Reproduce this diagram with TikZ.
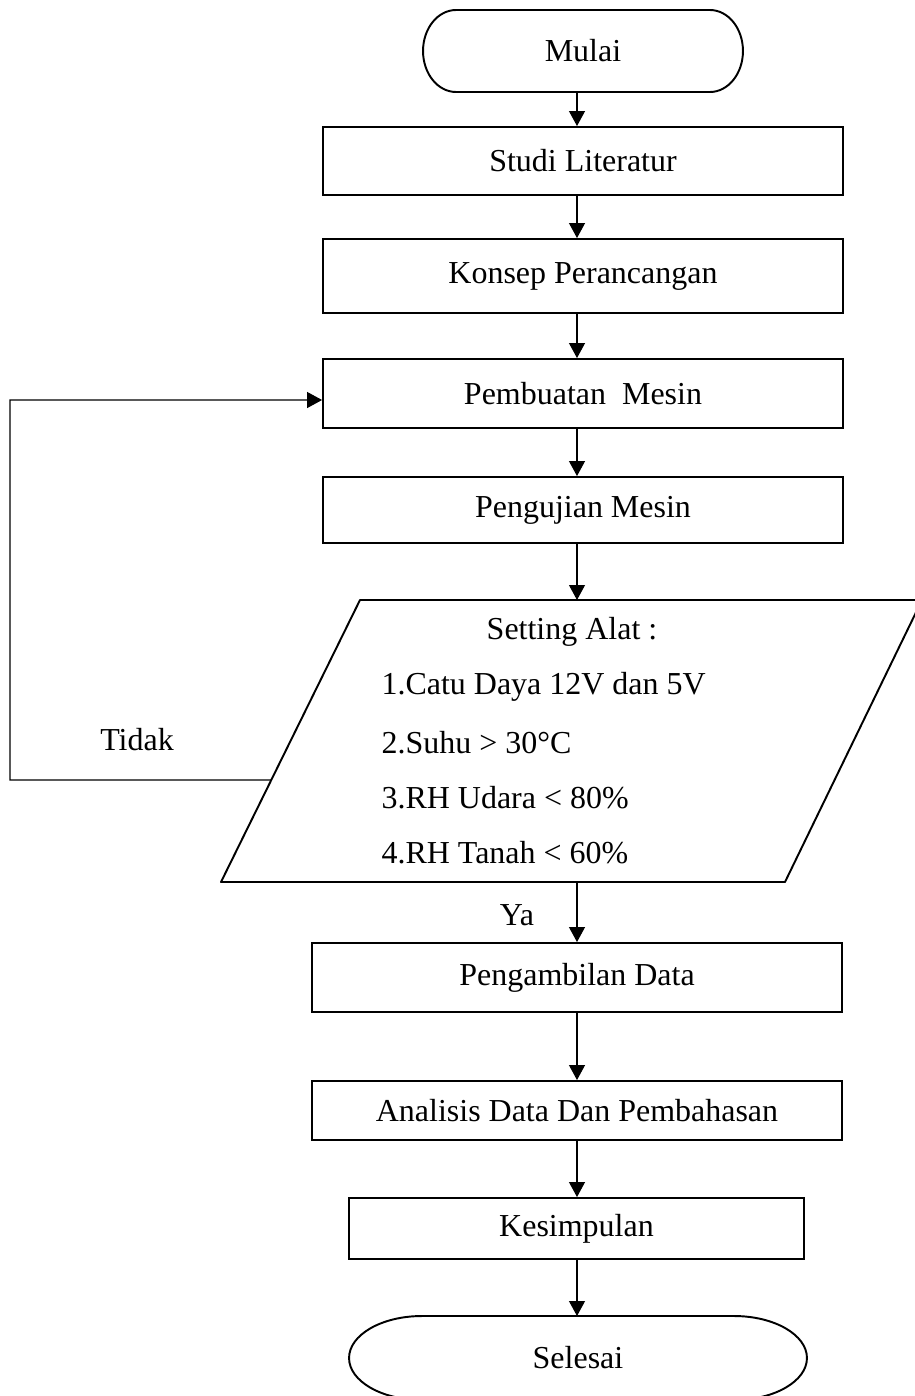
\documentclass[tikz,border=0pt]{standalone}
\usepackage{fontspec}
\setmainfont{Liberation Serif}
\usetikzlibrary{arrows.meta, calc, positioning}
\tikzset{%
  every path/.style={line width=0.6pt},
    flow/.style={%
        ->,
        >={Triangle[length=0.3cm, width=0.32cm]},
    },
    process/.style={%
        rectangle,
        draw=black, line width=1.1pt,
        font=\fontsize{18.2}{22}\selectfont,
        text centered,
        inner sep=0pt,
    },
    terminal/.style={%
        rectangle,
        font=\fontsize{18.2}{22}\selectfont,
        text centered,
        inner sep=0pt, outer sep=0pt,
    },
    outline/.style={%
        draw=black, line width=1.1pt, line join=round,
    },
    lbl/.style={%
        font=\fontsize{18.2}{22}\selectfont,
        inner sep=0pt,
    },
}

\begin{document}
\begin{tikzpicture}[x=0.02cm, y=-0.02cm]
  \useasboundingbox (0,0) rectangle (914,1396);
  % \draw[help lines, step=50] (0,0) grid (914,1396);
  \coordinate (axis) at (577,0);

  % start and end
  \node [terminal, minimum width=6.4cm, minimum height=1.64cm] at (583,51) (mulai) {Mulai};
  \draw[outline] ([xshift=0.66cm]mulai.north west) -- ([xshift=-0.66cm]mulai.north east)
    arc[start angle=90, end angle=-90, x radius=0.66cm, y radius=0.82cm]
    -- ([xshift=0.66cm]mulai.south west)
    arc[start angle=270, end angle=90, x radius=0.66cm, y radius=0.82cm] -- cycle;

  \node [terminal, minimum width=9.16cm, minimum height=1.68cm] at (578,1358) (selesai) {Selesai};
  \draw[outline] ([xshift=1.46cm]selesai.north west) -- ([xshift=-1.46cm]selesai.north east)
    arc[start angle=90, end angle=-90, x radius=1.46cm, y radius=0.84cm]
    -- ([xshift=1.46cm]selesai.south west)
    arc[start angle=270, end angle=90, x radius=1.46cm, y radius=0.84cm] -- cycle;

  % process steps
  \node [process, minimum width=10.4cm, minimum height=1.36cm] at (583,161) (studi) {Studi Literatur};
  \node [process, minimum width=10.4cm, minimum height=1.48cm] at (583,276) (konsep) {Konsep Perancangan};
  \node [process, minimum width=10.4cm, minimum height=1.38cm] at (583,393.5) (pembuatan) {Pembuatan\ \ Mesin};
  \node [process, minimum width=10.4cm, minimum height=1.32cm] at (583,510) (pengujian) {Pengujian Mesin};
  \node [process, minimum width=10.6cm, minimum height=1.38cm] at (577,977.5) (pengambilan) {Pengambilan Data};
  \node [process, minimum width=10.6cm, minimum height=1.18cm] at (577,1110.5) (analisis) {Analisis Data Dan Pembahasan};
  \node [process, minimum width=9.1cm, minimum height=1.22cm] at (576.5,1228.5) (kesimpulan) {Kesimpulan};

  % input/output box
  \coordinate (set-nw) at (360,600);
  \coordinate (set-ne) at (922,600);
  \coordinate (set-se) at (785,882);
  \coordinate (set-sw) at (221,882);
  \draw[outline] (set-nw) -- (set-ne) -- (set-se) -- (set-sw) -- cycle;

  \node [lbl] at (572,632) (set-title) {Setting Alat :};
  \node [lbl, anchor=west] at (381,687) (set-a) {1.Catu Daya 12V dan 5V};
  \node [lbl, anchor=west] at (381,743) (set-b) {2.Suhu > 30°C};
  \node [lbl, anchor=west] at (381,798) (set-c) {3.RH Udara < 80\%};
  \node [lbl, anchor=west] at (381,853) (set-d) {4.RH Tanah < 60\%};

  \node [lbl] at (137,740) (tidak) {Tidak};
  \node [lbl] at (517,915) (ya) {Ya};

  \draw[flow] (mulai.south -| axis) -- (studi.north -| axis);
  \draw[flow] (studi.south -| axis) -- (konsep.north -| axis);
  \draw[flow] (konsep.south -| axis) -- (pembuatan.north -| axis);
  \draw[flow] (pembuatan.south -| axis) -- (pengujian.north -| axis);
  \draw[flow] (pengujian.south -| axis) -- (axis |- set-nw);
  \draw[flow] (axis |- set-sw) -- (pengambilan.north -| axis);
  \draw[flow] (pengambilan.south -| axis) -- (analisis.north -| axis);
  \draw[flow] (analisis.south -| axis) -- (kesimpulan.north -| axis);
  \draw[flow] (kesimpulan.south -| axis) -- (selesai.north -| axis);

  % back loop
  \coordinate (back) at ($(set-sw)!0.3617!(set-nw)$);
  \coordinate (loop-corner) at (10,780);
  \draw[flow] (back) -- (loop-corner) |- ([yshift=-0.13cm]pembuatan.west);
\end{tikzpicture}
\end{document}
